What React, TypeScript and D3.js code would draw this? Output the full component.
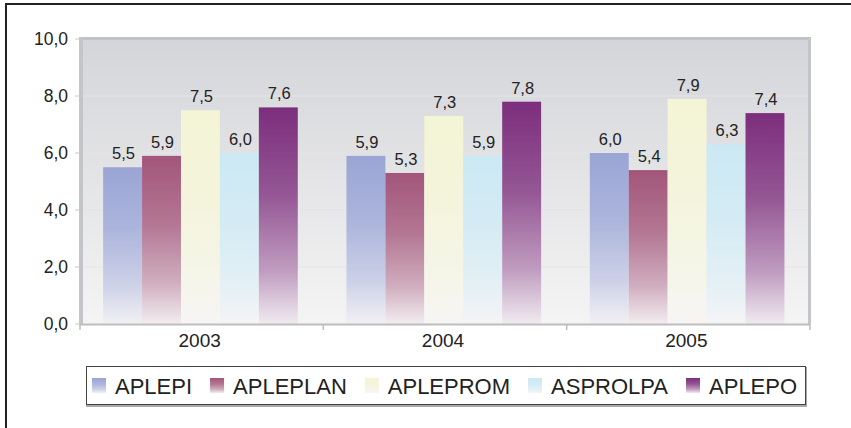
import React from "react";
import * as d3 from "d3";

const years = ["2003", "2004", "2005"];
const seriesNames = ["APLEPI", "APLEPLAN", "APLEPROM", "ASPROLPA", "APLEPO"];
const seriesColors = ["#9aa5d5", "#a2567a", "#f4f4d6", "#cbe9f4", "#7c2e7c"];

const aplepi = [5.5, 5.9, 6.0];
const apleplan = [5.9, 5.3, 5.4];
const aplepromValues = [7.5, 7.3, 7.9];
const asprolpa = [6.0, 5.9, 6.3];
const aplepo = [7.6, 7.8, 7.4];
const seriesValues = [aplepi, apleplan, aplepromValues, asprolpa, aplepo];

const yTicks = [0, 2, 4, 6, 8, 10];

const W = 851;
const H = 428;
const plot = { left: 80, right: 810, top: 39, bottom: 324 };
const font = "'Liberation Sans', Arial, sans-serif";
const fmt = (v: number) => d3.format(".1f")(v).replace(".", ",");

const App = () => {
  const x0 = d3.scaleBand().domain(years).range([plot.left, plot.right]);
  const bw = x0.bandwidth();
  const x1 = d3
    .scaleBand()
    .domain(seriesNames)
    .range([bw * 0.095, bw * 0.895]);
  const y = d3.scaleLinear().domain([0, 10]).range([plot.bottom, plot.top]);

  const legendRef = React.useRef<SVGGElement>(null);
  React.useEffect(() => {
    const g = d3.select(legendRef.current);
    let cx = 92;
    g.selectAll<SVGGElement, string>("g.item").each(function () {
      const item = d3.select(this);
      item.attr("transform", `translate(${cx},0)`);
      const t = item.select<SVGTextElement>("text").node();
      cx += 23 + (t ? t.getComputedTextLength() : 60) + 18;
    });
  }, []);

  return (
    <svg
      width={W}
      height={H}
      style={{ position: "absolute", left: 0, top: 0, background: "#fff" }}
    >
      <defs>
        <linearGradient id="wall" x1="0" y1="0" x2="0" y2="1">
          <stop offset="0" stopColor="#d4d5d9" />
          <stop offset="1" stopColor="#f4f4f4" />
        </linearGradient>
        {seriesNames.map((s, i) => {
          const mix = d3.interpolateRgb(seriesColors[i], "#f6f5f6");
          return (
            <linearGradient key={s} id={`g${i}`} x1="0" y1="0" x2="0" y2="1">
              <stop offset="0" stopColor={seriesColors[i]} />
              <stop offset="0.4" stopColor={mix(0.2)} />
              <stop offset="0.75" stopColor={mix(0.55)} />
              <stop offset="1" stopColor={mix(0.95)} />
            </linearGradient>
          );
        })}
      </defs>

      {/* outer frame */}
      <rect x={6} y={4} width={W + 10} height={H + 10} fill="none" stroke="#222" strokeWidth={2} />

      {/* plot wall */}
      <rect
        x={plot.left}
        y={plot.top - 2}
        width={plot.right - plot.left}
        height={plot.bottom - plot.top + 2}
        fill="url(#wall)"
      />
      <rect x={plot.left} y={plot.top - 2} width={plot.right - plot.left} height={3} fill="#c2c3c6" />
      <rect x={plot.left - 1} y={plot.top - 2} width={4} height={plot.bottom - plot.top + 2} fill="#c4c5c8" />
      <rect x={plot.right - 2} y={plot.top - 2} width={3} height={plot.bottom - plot.top + 2} fill="#c4c5c8" />

      {/* grid + y ticks */}
      {yTicks.map((t) => (
        <g key={t}>
          {t > 0 && t < 10 && (
            <line x1={plot.left + 3} x2={plot.right - 2} y1={y(t)} y2={y(t)} stroke="#e4e4e6" strokeWidth={1} />
          )}
          <line x1={plot.left - 5} x2={plot.left} y1={y(t)} y2={y(t)} stroke="#c8c8c8" />
          <text
            x={68}
            y={y(t)}
            dy="0.36em"
            textAnchor="end"
            fontFamily={font}
            fontSize={17.5}
            fill="#222"
          >
            {fmt(t)}
          </text>
        </g>
      ))}

      {/* bars */}
      {years.map((yr, yi) => (
        <g key={yr} transform={`translate(${x0(yr)},0)`}>
          {seriesNames.map((s, si) => {
            const v = seriesValues[si][yi];
            const bx = x1(s) as number;
            return (
              <g key={s}>
                <rect
                  x={bx}
                  y={y(v)}
                  width={x1.bandwidth()}
                  height={y(0) - y(v)}
                  fill={`url(#g${si})`}
                />
                <text
                  x={bx + x1.bandwidth() / 2 + 1}
                  y={y(v) - 8}
                  textAnchor="middle"
                  fontFamily={font}
                  fontSize={16.5}
                  fill="#222"
                >
                  {fmt(v)}
                </text>
              </g>
            );
          })}
        </g>
      ))}

      {/* x axis */}
      <line x1={plot.left} x2={plot.right} y1={plot.bottom + 0.5} y2={plot.bottom + 0.5} stroke="#bdbdbd" strokeWidth={2} />
      {[...years.map((yr) => x0(yr) as number), plot.right].map((bx, i) => (
        <line key={i} x1={bx} x2={bx} y1={plot.bottom} y2={plot.bottom + 6} stroke="#bdbdbd" strokeWidth={1.5} />
      ))}
      {years.map((yr) => (
        <text
          key={yr}
          x={(x0(yr) as number) + bw / 2 - 2}
          y={plot.bottom + 23}
          textAnchor="middle"
          fontFamily={font}
          fontSize={19}
          fill="#222"
        >
          {yr}
        </text>
      ))}

      {/* legend */}
      <rect x={87} y={368} width={719} height={38} fill="#fff" stroke="#aaa" strokeWidth={2} />
      <rect x={86.5} y={366.5} width={719} height={38} fill="#fff" stroke="#444" strokeWidth={1} />
      <g ref={legendRef}>
        {seriesNames.map((s, i) => (
          <g className="item" key={s}>
            <rect x={0} y={378} width={14} height={15} fill={`url(#g${i})`} />
            <text x={23} y={394} fontFamily={font} fontSize={22} fill="#222">
              {s}
            </text>
          </g>
        ))}
      </g>
    </svg>
  );
};

export default App;
